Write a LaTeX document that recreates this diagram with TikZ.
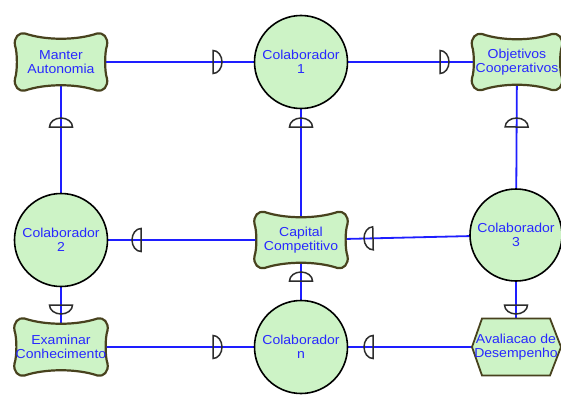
\documentclass[tikz,border=0pt]{standalone}
\usepackage{fontspec}
\setmainfont{Liberation Sans}[FakeStretch=1.08]
\usetikzlibrary{decorations.markings}
\pgfdeclarelayer{lines}
\pgfdeclarelayer{shapes}
\pgfsetlayers{lines,shapes,main}
\definecolor{nodefill}{RGB}{205,243,198}
\definecolor{wavyedge}{RGB}{72,66,30}
\definecolor{txtblue}{RGB}{40,40,255}
\definecolor{linkblue}{RGB}{30,30,255}
\definecolor{markgray}{RGB}{45,45,45}

% pinched box with lobed corners drawn round a label node
% #1 node name, #2 half width, #3 half height
\newcommand\wavyoutline[3]{%
  \begin{pgfonlayer}{shapes}
  \begin{scope}[shift={(#1.center)}]
    \draw[wavyline] ({-#2+10},{#3})
      .. controls ({-#2/3},{#3-7}) and ({#2/3},{#3-7}) .. ({#2-10},{#3})
      .. controls ({#2-4},{#3+1.5}) and ({#2+1.5},{#3-4}) .. ({#2},{#3-12})
      .. controls ({#2-2.5},{#3/3}) and ({#2-2.5},{-#3/3}) .. ({#2},{-#3+12})
      .. controls ({#2+1.5},{-#3+4}) and ({#2-4},{-#3-1.5}) .. ({#2-10},{-#3})
      .. controls ({#2/3},{-#3+7}) and ({-#2/3},{-#3+7}) .. ({-#2+10},{-#3})
      .. controls ({-#2+4},{-#3-1.5}) and ({-#2-1.5},{-#3+4}) .. ({-#2},{-#3+12})
      .. controls ({-#2+2.5},{-#3/3}) and ({-#2+2.5},{#3/3}) .. ({-#2},{#3-12})
      .. controls ({-#2-1.5},{#3-4}) and ({-#2+4},{#3+1.5}) .. ({-#2+10},{#3}) -- cycle;
  \end{scope}
  \end{pgfonlayer}}

\begin{document}
\begin{tikzpicture}[x=1pt,y=-1pt,
  lbl/.style={text=txtblue, align=center, font=\fontsize{13}{14}\selectfont, inner sep=0pt},
  actor/.style={lbl, circle, draw=black, line width=1.6pt, fill=nodefill, minimum size=93pt},
  wavyline/.style={draw=wavyedge, line width=2.2pt, fill=nodefill},
  hexline/.style={draw=wavyedge, line width=1.8pt, fill=nodefill, line join=miter},
  link/.style={draw=linkblue, line width=1.8pt},
  markline/.style={draw=markgray, line width=1.5pt, fill=none},
  reqmark/.style={postaction={decorate, decoration={markings,
      mark=at position -#1 with {\draw[markline] (0,-11.5) arc[start angle=-90, end angle=90, x radius=9, y radius=11.5] -- cycle;}}}}]
\useasboundingbox (0,0) rectangle (561,396);

% actors
\node[actor] (c1) at (301,62) {Colaborador\\1};
\node[actor] (c2) at (61,240) {Colaborador\\2};
\node[actor, minimum size=92pt] (c3) at (516,235) {Colaborador\\3};
\node[actor] (cn) at (301,347) {Colaborador\\n};

% goals and resources
\node[lbl] (manter) at (61,62) {Manter\\Autonomia};
\node[lbl] (objetivos) at (517,62) {Objetivos\\Cooperativos};
\node[lbl] (capital) at (301,240) {Capital\\Competitivo};
\node[lbl] (examinar) at (61,347) {Examinar\\Conhecimento};
\node[lbl] (avaliacao) at (516,347) {Avaliacao de\\Desempenho};

\wavyoutline{manter}{46}{28.5}
\wavyoutline{objetivos}{45}{28}
\wavyoutline{capital}{46.5}{28}
\wavyoutline{examinar}{46.5}{28.5}

\begin{pgfonlayer}{shapes}
  \begin{scope}[shift={(avaliacao.center)}]
    \draw[hexline] (-44,0) -- (-34,-28.5) -- (34,-28.5) -- (45,0) -- (34,28.5) -- (-34,28.5) -- cycle;
  \end{scope}
\end{pgfonlayer}

% dependencies
\begin{pgfonlayer}{lines}
  \draw[link, reqmark=88pt] (manter.center) -- (c1.center);
  \draw[link, reqmark=77pt] (c1.center) -- (objetivos.center);
  \draw[link, reqmark=65pt] (c2.center) -- (manter.center);
  \draw[link, reqmark=65pt] (capital.center) -- (c1.center);
  \draw[link, reqmark=65pt] (c3.center) -- (objetivos.center);
  \draw[link, reqmark=80pt] (capital.center) -- (c2.center);
  \draw[link, reqmark=72pt] (c3.center) -- (capital.center);
  \draw[link, reqmark=41pt] (cn.center) -- (capital.center);
  \draw[link, reqmark=42pt] (c2.center) -- (examinar.center);
  \draw[link, reqmark=42pt] (c3.center) -- (avaliacao.center);
  \draw[link, reqmark=88pt] (examinar.center) -- (cn.center);
  \draw[link, reqmark=72pt] (avaliacao.center) -- (cn.center);
\end{pgfonlayer}
\end{tikzpicture}
\end{document}
